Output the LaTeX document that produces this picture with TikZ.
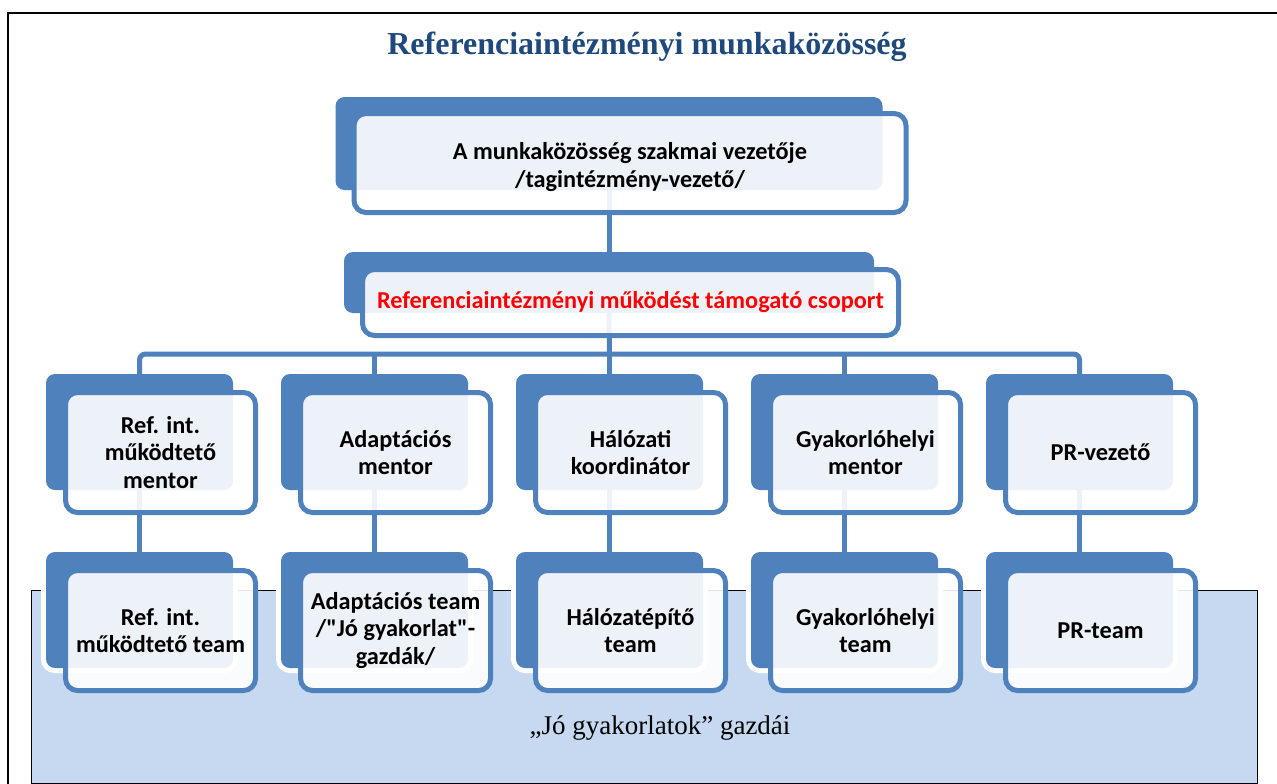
\documentclass[tikz,border=0pt]{standalone}
\usepackage{fontspec}
\setmainfont{Liberation Serif}
\newfontfamily\calibri{Carlito}
\definecolor{blueA}{HTML}{4F81BD}
\definecolor{bandblue}{HTML}{C6D9F1}
\definecolor{titleblue}{HTML}{1F497D}
\begin{document}
\begin{tikzpicture}[x=1pt,y=-1pt,
  backbox/.style={fill=blueA, rounded corners=9pt, inner sep=0pt,
    preaction={draw=white, line width=10pt}},
  frontbox/.style={draw=blueA, line width=5pt, fill=white, fill opacity=0.9,
    draw opacity=1, text opacity=1, rounded corners=12pt, inner sep=0pt,
    align=center, font=\calibri\bfseries\fontsize{24.3}{27.5}\selectfont},
  colback/.style={backbox, minimum width=187pt, minimum height=116pt},
  colfront/.style={frontbox, minimum width=190pt, minimum height=120pt},
  conn/.style={draw=blueA, line width=5pt}]
\useasboundingbox (0,0) rectangle (1277,784);
\fill[white] (0,0) rectangle (1277,784);
% outer frame (left and top edges visible)
\draw[line width=1.5pt] (8,786) -- (8,13) -- (1277,13);
% band
\draw[fill=bandblue, line width=0.8pt] (31,590) rectangle (1257,783);
\node[font=\fontsize{27}{31}\selectfont] (band) at (660,728) {„Jó gyakorlatok” gazdái};
% title
\node[font=\bfseries\fontsize{32}{37}\selectfont, text=titleblue] (title) at (647,47) {Referenciaintézményi munkaközösség};
% back boxes
\node[backbox, minimum width=547pt, minimum height=93pt] (tb) at (609,143.5) {};
\node[backbox, minimum width=530pt, minimum height=61pt] (gb) at (609,282.5) {};
\node[colback] (m1b) at (139.5,432) {};
\node[colback] (m2b) at (374.5,432) {};
\node[colback] (m3b) at (609.5,432) {};
\node[colback] (m4b) at (844.5,432) {};
\node[colback] (m5b) at (1079.5,432) {};
\node[colback] (b1b) at (139.5,610) {};
\node[colback] (b2b) at (374.5,610) {};
\node[colback] (b3b) at (609.5,610) {};
\node[colback] (b4b) at (844.5,610) {};
\node[colback] (b5b) at (1079.5,610) {};
\coordinate (bus) at (609.5,354);
% connectors
\draw[conn] (tb.south) -- (gb.north);
\draw[conn] (gb.south) -- (bus);
\draw[conn, rounded corners=6pt] (m1b.north) |- (bus) -| (m5b.north);
\draw[conn] (m2b.north) -- (m2b.north |- bus);
\draw[conn] (m3b.north) -- (bus);
\draw[conn] (m4b.north) -- (m4b.north |- bus);
\draw[conn] (m1b.south) -- (b1b.north);
\draw[conn] (m2b.south) -- (b2b.north);
\draw[conn] (m3b.south) -- (b3b.north);
\draw[conn] (m4b.south) -- (b4b.north);
\draw[conn] (m5b.south) -- (b5b.north);
% front boxes
\node[frontbox, minimum width=552pt, minimum height=99pt] (t) at ([shift={(21,19.5)}]tb.center) {};
\node[font=\calibri\bfseries\fontsize{24.3}{27.5}\selectfont, align=center, inner sep=0pt] (tt) at ([shift={(0,4)}]t.center) {A munkaközösség szakmai vezetője\\/tagintézmény-vezető/};
\node[frontbox, minimum width=536pt, minimum height=66pt, text=red] (g) at ([shift={(21.5,20)}]gb.center) {Referenciaintézményi működést támogató csoport};
\node[colfront] (m1) at ([shift={(21,20.5)}]m1b.center) {Ref. int.\\működtető\\mentor};
\node[colfront] (m2) at ([shift={(21,20.5)}]m2b.center) {Adaptációs\\mentor};
\node[colfront] (m3) at ([shift={(21,20.5)}]m3b.center) {Hálózati\\koordinátor};
\node[colfront] (m4) at ([shift={(21,20.5)}]m4b.center) {Gyakorlóhelyi\\mentor};
\node[colfront] (m5) at ([shift={(21,20.5)}]m5b.center) {PR-vezető};
\node[colfront] (b1) at ([shift={(21,20.5)}]b1b.center) {Ref. int.\\működtető team};
\node[colfront] (b2) at ([shift={(21,20.5)}]b2b.center) {Adaptációs team\\/"Jó gyakorlat"-\\gazdák/};
\node[colfront] (b3) at ([shift={(21,20.5)}]b3b.center) {Hálózatépítő\\team};
\node[colfront] (b4) at ([shift={(21,20.5)}]b4b.center) {Gyakorlóhelyi\\team};
\node[colfront] (b5) at ([shift={(21,20.5)}]b5b.center) {PR-team};
\end{tikzpicture}
\end{document}
